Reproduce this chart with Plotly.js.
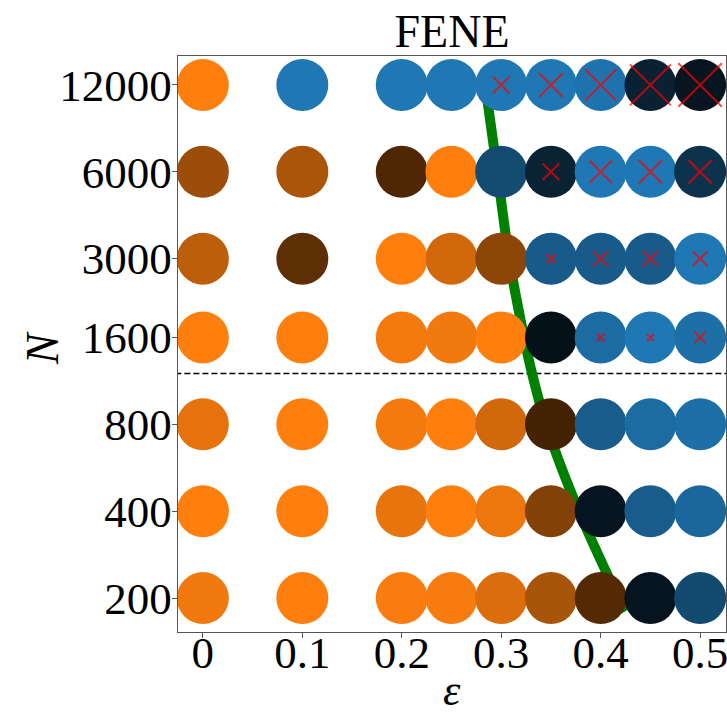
<!DOCTYPE html>
<html>
<head>
<meta charset="utf-8">
<script src="https://cdn.plot.ly/plotly-3.0.1.min.js"></script>
<style>html,body{margin:0;padding:0;background:#fff;}</style>
</head>
<body>
<div id="chart" style="width:727px;height:717px;"></div>
<script>
// ---- data ----
const epsilon = [0, 0.1, 0.2, 0.25, 0.3, 0.35, 0.4, 0.45, 0.5];
const epsilonTickText = ['0', '0.1', '0.2', '0.3', '0.4', '0.5'];
const epsilonTicks = [0, 0.1, 0.2, 0.3, 0.4, 0.5];
const N_values = [200, 400, 800, 1600, 3000, 6000, 12000];
const N_tickText = ['200', '400', '800', '1600', '3000', '6000', '12000'];

// signed state value: negative = orange side, positive = blue side, magnitude = brightness
const state_N200   = [-0.95, -1.00, -0.98, -0.97, -0.86, -0.66, -0.33, 0.17, 0.62];
const state_N400   = [-1.00, -1.00, -0.91, -1.00, -0.93, -0.51, 0.17, 0.77, 0.86];
const state_N800   = [-0.90, -1.00, -0.96, -1.00, -0.82, -0.27, 0.77, 0.90, 0.93];
const state_N1600  = [-1.00, -1.00, -0.96, -0.95, -1.00, 0.14, 0.90, 1.00, 0.93];
const state_N3000  = [-0.74, -0.37, -1.00, -0.82, -0.55, 0.76, 0.76, 0.76, 1.00];
const state_N6000  = [-0.61, -0.67, -0.31, -1.00, 0.63, 0.29, 1.00, 1.00, 0.42];
const state_N12000 = [-1.00, 1.00, 1.00, 1.00, 1.00, 1.00, 0.97, 0.28, 0.18];

// cross magnitude (null = no cross)
const cross_N1600  = [null, null, null, null, null, null, 9, 8, 13];
const cross_N3000  = [null, null, null, null, null, 10, 18, 18, 17];
const cross_N6000  = [null, null, null, null, null, 19, 26, 27, 27];
const cross_N12000 = [null, null, null, null, 19, 27, 36, 47, 50];

// boundary curve (green)
const boundary_N   = [180, 200, 400, 800, 1200, 1600, 3000, 6000, 12000];
const boundary_eps = [0.425, 0.418, 0.378, 0.345, 0.331, 0.323, 0.308, 0.296, 0.284];

const separator_N = 1200;

// ---- build ----
const stateRows = [state_N200, state_N400, state_N800, state_N1600, state_N3000, state_N6000, state_N12000];
const crossRows = {1600: cross_N1600, 3000: cross_N3000, 6000: cross_N6000, 12000: cross_N12000};

const cx = [], cy = [], cc = [];
stateRows.forEach((row, i) => {
  row.forEach((v, j) => { cx.push(epsilon[j]); cy.push(N_values[i]); cc.push(v); });
});
const xx = [], xy = [], xs = [];
Object.keys(crossRows).forEach(k => {
  crossRows[k].forEach((s, j) => {
    if (s !== null) { xx.push(epsilon[j]); xy.push(Number(k)); xs.push(s / 1.15); }
  });
});

const font = 'Liberation Serif, Times New Roman, serif';

const traces = [
  {
    x: [-0.1, 0.6], y: [separator_N, separator_N], mode: 'lines', type: 'scatter',
    line: {color: '#000', width: 1.5, dash: '6px,3px'}, hoverinfo: 'skip', showlegend: false
  },
  {
    x: boundary_eps, y: boundary_N, mode: 'lines', type: 'scatter',
    line: {color: '#008000', width: 10, shape: 'spline', smoothing: 0.8}, hoverinfo: 'skip', showlegend: false
  },
  {
    x: cx, y: cy, mode: 'markers', type: 'scatter', showlegend: false,
    marker: {
      size: 52, symbol: 'circle', color: cc, cmin: -1, cmax: 1, showscale: false,
      colorscale: [[0, '#ff7f0e'], [0.5, '#000000'], [1, '#1f77b4']],
      line: {width: 0}
    }
  },
  {
    x: xx, y: xy, mode: 'markers', type: 'scatter', showlegend: false,
    marker: {size: xs, symbol: 'x-thin', color: 'red', line: {color: '#ff0000', width: 2}}
  }
];

const layout = {
  width: 727, height: 717,
  margin: {l: 178, r: 1, t: 56, b: 85},
  paper_bgcolor: '#fff', plot_bgcolor: '#fff',
  showlegend: false,
  title: {text: 'FENE', font: {family: font, size: 46, color: '#000'}, x: 0.5, xanchor: 'center', xref: 'paper', y: 0.957, yref: 'container', yanchor: 'middle'},
  xaxis: {
    range: [-0.025, 0.526], tickvals: epsilonTicks, ticktext: epsilonTickText,
    showgrid: false, zeroline: false, showline: true, mirror: true,
    linecolor: '#555', linewidth: 1.2, ticks: 'outside', ticklen: 5, tickcolor: '#555',
    tickfont: {family: font, size: 45, color: '#000'}, ticklabelstandoff: -24, ticklabeloverflow: 'allow'
  },
  yaxis: {
    type: 'log', range: [2.1834, 4.1795], tickvals: N_values, ticktext: N_tickText,
    showgrid: false, zeroline: false, showline: true, mirror: true,
    linecolor: '#555', linewidth: 1.2, ticks: 'outside', ticklen: 5, tickcolor: '#555',
    tickfont: {family: font, size: 45, color: '#000'}, ticklabelstandoff: -9, ticklabeloverflow: 'allow'
  },
  annotations: [
    {text: '<i>ε</i>', xref: 'paper', yref: 'paper', x: 0.5, y: -0.101, xanchor: 'center', yanchor: 'middle',
     showarrow: false, font: {family: font, size: 44, color: '#000'}},
    {text: '<i>N</i>', xref: 'paper', yref: 'paper', x: -0.248, y: 0.493, xanchor: 'center', yanchor: 'middle',
     textangle: -90, showarrow: false, font: {family: font, size: 46, color: '#000'}}
  ]
};

Plotly.newPlot('chart', traces, layout, {staticPlot: true, displayModeBar: false});
</script>
</body>
</html>
